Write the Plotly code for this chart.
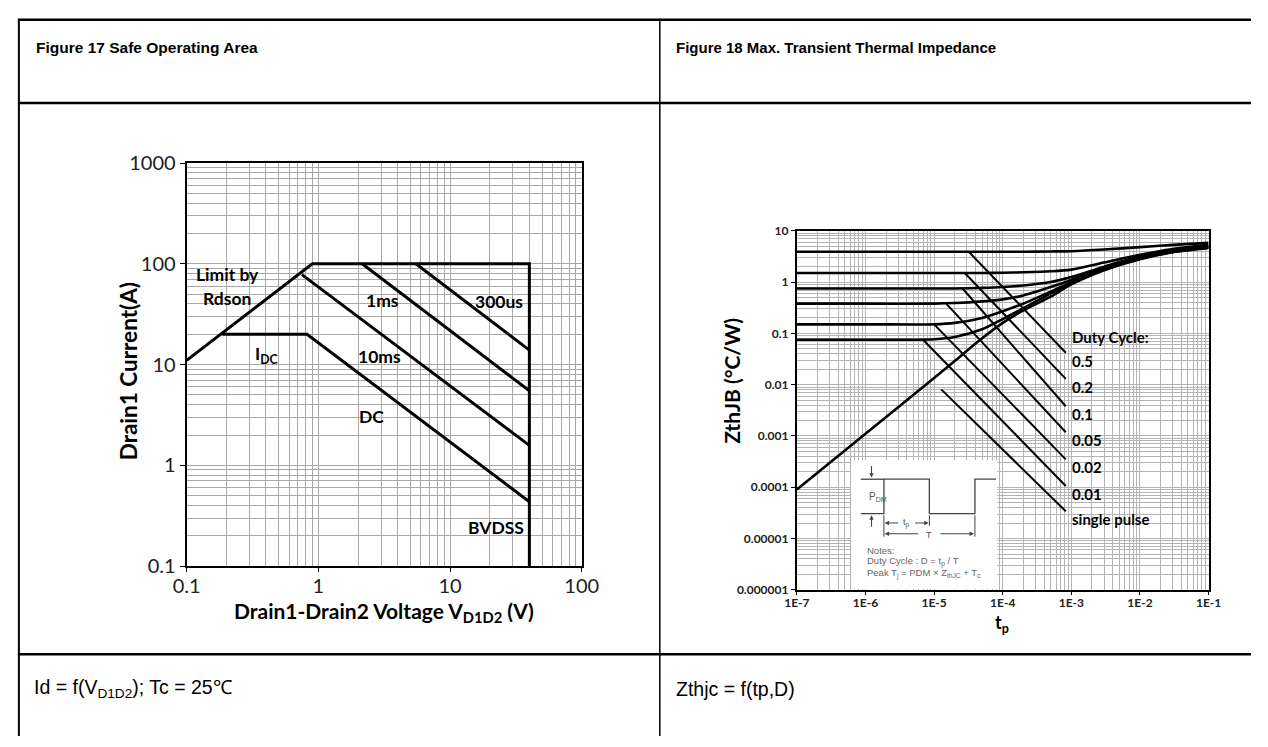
import math
import plotly.graph_objects as go

W, H = 1268, 747


def px(x):
    return x / W


def py(y):
    return 1 - y / H


# ---------------- Figure 17 : Safe Operating Area ----------------
soa_limit_v = [0.1, 0.9, 40, 40]
soa_limit_i = [11, 100, 100, 0.1]
soa_idc_v = [0.186, 0.82, 40]
soa_idc_i = [20, 20, 0.435]
soa_10ms_v = [0.75, 40]
soa_10ms_i = [78, 1.58]
soa_1ms_v = [2.15, 40]
soa_1ms_i = [100, 5.5]
soa_300us_v = [5.5, 40]
soa_300us_i = [100, 13.9]
soa_yticks = [0.1, 1, 10, 100, 1000]
soa_yticktext = ["0.1", "1", "10", "100", "1000"]
soa_xticks = [0.1, 1, 10, 100]
soa_xticktext = ["0.1", "1", "10", "100"]

# ---------------- Figure 18 : Transient thermal impedance ----------------
zth_t = [1e-7, 1e-6, 1e-5, 2e-5, 5e-5, 1e-4, 2e-4, 5e-4, 1e-3, 3e-3, 1e-2, 3e-2, 1e-1]
zth_d05 = [3.9, 3.9, 3.9, 3.9, 3.9, 3.9, 3.9, 3.95, 4.0, 4.3, 4.8, 5.3, 5.8]
zth_d02 = [1.5, 1.5, 1.5, 1.5, 1.5, 1.52, 1.55, 1.62, 1.75, 2.4, 3.4, 4.4, 5.3]
zth_d01 = [0.75, 0.75, 0.75, 0.75, 0.77, 0.8, 0.86, 1.0, 1.25, 2.0, 3.2, 4.2, 5.1]
zth_d005 = [0.38, 0.38, 0.38, 0.39, 0.42, 0.46, 0.55, 0.8, 1.1, 1.9, 3.0, 4.0, 4.9]
zth_d002 = [0.15, 0.15, 0.15, 0.16, 0.2, 0.27, 0.38, 0.65, 1.0, 1.8, 2.9, 3.9, 4.8]
zth_d001 = [0.075, 0.075, 0.077, 0.085, 0.12, 0.19, 0.31, 0.6, 0.97, 1.75, 2.85, 3.85, 4.7]
zth_single = [9e-5, 1.1e-3, 0.0135, 0.029, 0.08, 0.16, 0.28, 0.52, 0.9, 1.7, 2.8, 3.8, 4.6]

duty_labels = ["0.5", "0.2", "0.1", "0.05", "0.02", "0.01", "single pulse"]
lead_t0 = [3.2e-5, 2.8e-5, 2.6e-5, 1.5e-5, 1.0e-5, 6.9e-6, 1.27e-5]
lead_z0 = [3.9, 1.5, 0.75, 0.38, 0.15, 0.075, 0.0081]
lead_t1 = [8.3e-4, 8.3e-4, 8.3e-4, 8.3e-4, 8.3e-4, 8.3e-4, 8.3e-4]
lead_z1 = [0.042, 0.013, 0.0038, 0.00118, 3.5e-4, 1.06e-4, 3.4e-5]

zth_yticks = [1e-6, 1e-5, 1e-4, 1e-3, 1e-2, 0.1, 1, 10]
zth_yticktext = ["0.000001", "0.00001", "0.0001", "0.001", "0.01", "0.1", "1", "10"]
zth_xticks = [1e-7, 1e-6, 1e-5, 1e-4, 1e-3, 1e-2, 1e-1]
zth_xticktext = ["1E-7", "1E-6", "1E-5", "1E-4", "1E-3", "1E-2", "1E-1"]

CHART_FONT = "Lato"
TABLE_FONT = "Liberation Sans"

fig = go.Figure()

line_soa = dict(color="black", width=3)
for v, i in [(soa_limit_v, soa_limit_i), (soa_idc_v, soa_idc_i), (soa_10ms_v, soa_10ms_i),
             (soa_1ms_v, soa_1ms_i), (soa_300us_v, soa_300us_i)]:
    fig.add_trace(go.Scatter(x=v, y=i, mode="lines", line=line_soa, xaxis="x", yaxis="y",
                             showlegend=False, hoverinfo="skip"))

line_z = dict(color="black", width=2.6, shape="spline", smoothing=0.8)
for z in [zth_d05, zth_d02, zth_d01, zth_d005, zth_d002, zth_d001, zth_single]:
    fig.add_trace(go.Scatter(x=zth_t, y=z, mode="lines", line=line_z, xaxis="x2", yaxis="y2",
                             showlegend=False, hoverinfo="skip"))
for k in range(len(duty_labels)):
    fig.add_trace(go.Scatter(x=[lead_t0[k], lead_t1[k]], y=[lead_z0[k], lead_z1[k]], mode="lines",
                             line=dict(color="black", width=2), xaxis="x2", yaxis="y2",
                             showlegend=False, hoverinfo="skip"))

# ---- axes geometry (pixels) ----
L_x0, L_x1, L_y0, L_y1 = 177, 582, 155, 571.5
R_x0, R_x1, R_y0, R_y1 = 802.5, 1224.5, 225, 596

grid_l = "#a8a8a8"
grid_r = "#b4b4b4"

fig.update_layout(
    width=W, height=H, margin=dict(l=0, r=0, t=0, b=0),
    paper_bgcolor="white", plot_bgcolor="white",
    xaxis=dict(type="log", range=[-1, 2], domain=[px(L_x0), px(L_x1)], anchor="y",
               tickvals=soa_xticks, ticktext=soa_xticktext,
               tickfont=dict(family=CHART_FONT, size=20, color="#222"),
               showline=True, linecolor="black", linewidth=2, mirror=True,
               ticks="outside", ticklen=4, tickcolor="black", ticklabelstandoff=-3,
               showgrid=True, gridcolor=grid_l, gridwidth=1,
               minor=dict(dtick="D1", showgrid=True, gridcolor=grid_l, gridwidth=1),
               zeroline=False),
    yaxis=dict(type="log", range=[-1, 3], domain=[py(L_y1), py(L_y0)], anchor="x",
               tickvals=soa_yticks, ticktext=soa_yticktext,
               tickfont=dict(family=CHART_FONT, size=20, color="#222"),
               showline=True, linecolor="black", linewidth=2, mirror=True,
               ticks="outside", ticklen=5, tickcolor="black",
               showgrid=True, gridcolor=grid_l, gridwidth=1,
               minor=dict(dtick="D1", showgrid=True, gridcolor=grid_l, gridwidth=1),
               zeroline=False),
    xaxis2=dict(type="log", range=[-7, -1], domain=[px(R_x0), px(R_x1)], anchor="y2",
                tickvals=zth_xticks, ticktext=zth_xticktext,
                tickfont=dict(family=CHART_FONT, size=12, color="#222", weight="bold"),
                showline=True, linecolor="black", linewidth=2, mirror=True,
                ticks="outside", ticklen=3, tickcolor="black", ticklabelstandoff=-2,
                showgrid=True, gridcolor=grid_r, gridwidth=1,
                minor=dict(dtick="D1", showgrid=True, gridcolor=grid_r, gridwidth=1),
                zeroline=False),
    yaxis2=dict(type="log", range=[-6, 1], domain=[py(R_y1), py(R_y0)], anchor="x2",
                tickvals=zth_yticks, ticktext=zth_yticktext,
                tickfont=dict(family=CHART_FONT, size=12, color="#222", weight="bold"),
                showline=True, linecolor="black", linewidth=2, mirror=True,
                ticks="outside", ticklen=4, tickcolor="black",
                showgrid=True, gridcolor=grid_r, gridwidth=1,
                minor=dict(dtick="D1", showgrid=True, gridcolor=grid_r, gridwidth=1),
                zeroline=False),
)

shapes = []
ann = []


def hline(y, x0, x1, w=2, c="black"):
    shapes.append(dict(type="line", xref="paper", yref="paper", x0=px(x0), x1=px(x1),
                       y0=py(y), y1=py(y), line=dict(color=c, width=w)))


def vline(x, y0, y1, w=2, c="black"):
    shapes.append(dict(type="line", xref="paper", yref="paper", x0=px(x), x1=px(x),
                       y0=py(y0), y1=py(y1), line=dict(color=c, width=w)))


def text(x, y, s, size, family=CHART_FONT, bold=False, color="black", xanchor="center",
         yanchor="middle", angle=0):
    ann.append(dict(x=px(x), y=py(y), xref="paper", yref="paper", text=s, showarrow=False,
                    xanchor=xanchor, yanchor=yanchor, textangle=angle,
                    font=dict(family=family, size=size, color=color,
                              weight="bold" if bold else "normal")))


# ---- table frame ----
hline(7, 4, W, 2.5)
hline(93, 4, W, 2.5)
hline(662.5, 4, W, 2.5)
vline(5, 6, H, 2)
vline(662, 6, H, 1.5)

text(20, 36, "Figure 17 Safe Operating Area", 15.5, TABLE_FONT, True, xanchor="left")
text(677, 36, "Figure 18 Max. Transient Thermal Impedance", 15, TABLE_FONT, True, xanchor="left")
text(18, 698, "Id = f(V<sub>D1D2</sub>); Tc = 25℃", 19.5, TABLE_FONT, False, xanchor="left")
text(677, 698, "Zthjc = f(tp,D)", 19.5, TABLE_FONT, False, xanchor="left")

# ---- Figure 17 labels ----
text(117, 370, "Drain1 Current(A)", 22.5, bold=True, angle=-90)
text(379, 619, "Drain1-Drain2 Voltage V<sub>D1D2</sub> (V)", 21, bold=True)
text(219, 270, "Limit by", 17.5, bold=True)
text(218, 295, "Rdson", 17.5, bold=True)
text(378, 297, "1ms", 17.5, bold=True)
text(497, 298, "300us", 17.5, bold=True)
text(259, 353, "I<sub>DC</sub>", 17.5, bold=True)
text(375, 355, "10ms", 17.5, bold=True)
text(366, 417, "DC", 17.5, bold=True)
text(494, 532, "BVDSS", 17.5, bold=True)

# ---- Figure 18 labels ----
text(736, 380, "ZthJB (°C/W)", 21, bold=True, angle=-90)
text(1013, 616, "t<sub>p</sub>", 18, bold=True, yanchor="top")
lab_x = math.log10(lead_t1[0])
for k, s in enumerate(duty_labels):
    ann.append(dict(x=lab_x, y=math.log10(lead_z1[k]), xref="x2", yref="y2", text=s,
                    showarrow=False, xanchor="left", yanchor="middle", xshift=4, yshift=-8,
                    font=dict(family=CHART_FONT, size=15, color="black", weight="bold")))
ann.append(dict(x=lab_x, y=math.log10(lead_z1[0]), xref="x2", yref="y2", text="Duty Cycle:",
                showarrow=False, xanchor="left", yanchor="middle", xshift=4, yshift=16,
                font=dict(family=CHART_FONT, size=15, color="black", weight="bold")))

# ---- inset (pulse diagram) ----
shapes.append(dict(type="rect", xref="paper", yref="paper", x0=px(858), x1=px(1008),
                   y0=py(595), y1=py(462), fillcolor="white", line=dict(width=0)))
g = "#444"
hline(481.7, 868, 891.7, 1.3, g)
shapes.append(dict(type="path", xref="paper", yref="paper",
                   path=("M{},{} L{},{} L{},{} L{},{} L{},{} L{},{} L{},{} L{},{}".format(
                       px(868), py(517.3), px(891.7), py(517.3), px(891.7), py(481.7),
                       px(938.3), py(481.7), px(938.3), py(517.3), px(985), py(517.3),
                       px(985), py(481.7), px(1006.7), py(481.7))),
                   line=dict(color=g, width=1.3)))
vline(891.7, 519, 541, 1, g)
vline(938.3, 519, 530, 1, g)
vline(985, 519, 541, 1, g)
text(874, 500, "P<sub>DM</sub>", 10, TABLE_FONT, color="#555", xanchor="left")
text(915, 527, "t<sub>p</sub>", 9, TABLE_FONT, color="#555")
text(938, 539, "T", 9, TABLE_FONT, color="#555")
text(872, 555, "Notes:", 9.5, TABLE_FONT, color="#666", xanchor="left")
text(872, 567, "Duty Cycle : D = t<sub>p</sub> / T", 9.5, TABLE_FONT, color="#666", xanchor="left")
text(872, 579, "Peak T<sub>j</sub> = PDM × Z<sub>thJC</sub> + T<sub>c</sub>", 9.5, TABLE_FONT,
     color="#666", xanchor="left")


def arrow(x, y, axp, ayp):
    ann.append(dict(x=px(x), y=py(y), xref="paper", yref="paper", ax=axp, ay=ayp, text="",
                    showarrow=True, arrowhead=2, arrowsize=0.8, arrowwidth=1.1, arrowcolor=g))


arrow(879, 480, 0, -13)
arrow(879, 519, 0, 13)
arrow(892.5, 527, 15, 0)
arrow(937.5, 527, -15, 0)
arrow(892.5, 538, 35, 0)
arrow(984, 538, -35, 0)

fig.update_layout(shapes=shapes, annotations=ann)
fig.write_html("out.html")
